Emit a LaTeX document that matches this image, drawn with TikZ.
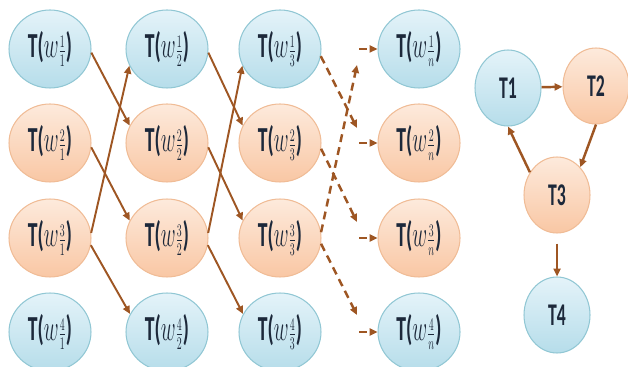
\documentclass[tikz,border=0pt]{standalone}
\usepackage{fontspec}
\setmainfont{Carlito}
\usepackage{amsmath}
\usetikzlibrary{arrows.meta,positioning,calc,shapes.geometric}
\definecolor{ballBlueTop}{RGB}{228,243,249}
\definecolor{ballBlueBot}{RGB}{182,221,234}
\definecolor{ballBlueRim}{RGB}{145,199,212}
\definecolor{ballOrTop}{RGB}{253,234,220}
\definecolor{ballOrBot}{RGB}{249,199,164}
\definecolor{ballOrRim}{RGB}{240,188,150}
\definecolor{linkBrown}{RGB}{158,86,35}
\definecolor{txtNavy}{RGB}{28,40,58}
\tikzset{
  ball/.style={ellipse, line width=0.6pt, inner sep=0pt, text=txtNavy},
  bigball/.style={ball, minimum width=1.64cm, minimum height=1.56cm,
    font=\fontsize{20}{22}\selectfont\bfseries},
  smallball/.style={ball, minimum width=1.32cm, minimum height=1.52cm,
    font=\fontsize{18}{20}\selectfont\bfseries},
  ballblue/.style={top color=ballBlueTop, bottom color=ballBlueBot, draw=ballBlueRim},
  ballorange/.style={top color=ballOrTop, bottom color=ballOrBot, draw=ballOrRim},
  linkarr/.style={-{Triangle[length=4.5pt,width=4pt]}, line width=1.1pt, linkBrown},
  dasharr/.style={linkarr, line width=1.4pt, dash pattern=on 4.5pt off 3pt},
  grapharr/.style={linkarr, line width=1.4pt},
}
\newcommand{\squeeze}[1]{\scalebox{0.56}[1]{#1}}
\newcommand{\wlab}[2]{\squeeze{T($w\genfrac{}{}{0.5pt}{2}{#1}{#2}$)}}

\begin{document}
\begin{tikzpicture}[x=0.02cm, y=-0.02cm]
    \useasboundingbox (0,0) rectangle (628,367);
    % four columns of balls, outer rows blue, inner rows orange
    \foreach \c/\cx/\sub in {1/50/1, 2/167/2, 3/280/3, 4/419/n} {
      \node[bigball, ballblue]   (w1\c) at (\cx,49)  {\wlab{1}{\sub}};
      \node[bigball, ballorange] (w2\c) at (\cx,143) {\wlab{2}{\sub}};
      \node[bigball, ballorange] (w3\c) at (\cx,238) {\wlab{3}{\sub}};
      \node[bigball, ballblue]   (w4\c) at (\cx,332) {\wlab{4}{\sub}};
    }
    % solid links between the first three columns
    \foreach \a/\b in {1/2, 2/3} {
      \draw[linkarr] (w1\a.-5) -- (w2\b.155);
      \draw[linkarr] (w2\a.-6) -- (w3\b.155);
      \draw[linkarr] (w3\a.7) -- (w1\b.204);
      \draw[linkarr] (w3\a.-10) -- (w4\b.154);
    }
    % dashed links fading out towards column n
    \coordinate (d2) at (357,128);
    \coordinate (d3) at (357,222);
    \coordinate (d1) at (357,65);
    \coordinate (d4) at (357,315);
    \draw[dasharr] (w13.-10) -- (d2);
    \draw[dasharr] (w23.-8) -- (d3);
    \draw[dasharr] (w33.8) -- (d1);
    \draw[dasharr] (w33.-8) -- (d4);
    \foreach \r in {1,...,4} {
      \coordinate (in\r) at ($(w\r4.west)+(-18,0)$);
      \draw[dasharr] (in\r) -- (w\r4.west);
    }
    % small task graph
    \node[smallball, ballblue]   (T1) at (508,88)  {\squeeze{T1}};
    \node[smallball, ballorange] (T2) at (596,86)  {\squeeze{T2}};
    \node[smallball, ballorange] (T3) at (557,195) {\squeeze{T3}};
    \node[smallball, ballblue]   (T4) at (557,315) {\squeeze{T4}};
    \draw[grapharr] (T1) -- (T2);
    \draw[grapharr] (T2.south) -- (T3.50);
    \draw[grapharr] (T3.140) -- (T1.south);
    \draw[grapharr, shorten <=10*0.02cm] (T3) -- (T4);
\end{tikzpicture}
\end{document}
